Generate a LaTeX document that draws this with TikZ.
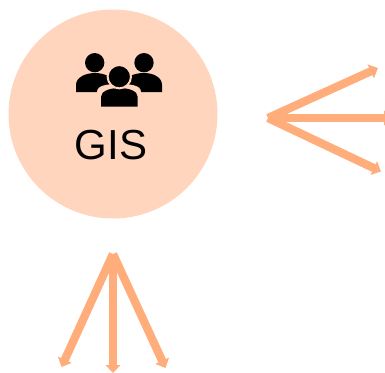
\documentclass[tikz,border=0pt]{standalone}
\usepackage{fontspec}
\setmainfont{Liberation Sans}
\usetikzlibrary{arrows.meta}
\definecolor{peach}{HTML}{FFD5BE}
\definecolor{fan}{HTML}{FFAD7A}

\begin{document}
\begin{tikzpicture}[x=.75pt, y=-.75pt,
                        hub/.style={circle, fill=peach, inner sep=0pt, minimum size=156.75pt},
                        spoke/.style={draw=fan, fill=fan, line width=6.2pt, -{Triangle[width=11pt, length=6pt]}},
                        head/.style={circle, fill=black, inner sep=0pt, minimum size=14.5pt},
                        mid/.style={circle, fill=black, draw=peach, line width=1.5pt, inner sep=0pt, minimum size=17.5pt}]
      \useasboundingbox (0,0) rectangle (385,372);

      \node[hub] (gis) at (113,114) {};
      \node[font=\fontsize{31.5}{31.5}\selectfont] (label) at (111,145) {GIS};

      % people icon
      \fill (76,92) -- (76,85) .. controls (76,77) and (86,73) .. (95,73)
            .. controls (104,73) and (114,77) .. (114,85) -- (114,92) -- cycle;
      \fill (124,92) -- (124,85) .. controls (124,77) and (134,73) .. (144,73)
            .. controls (153,73) and (162,77) .. (162,85) -- (162,92) -- cycle;
      \node[head] (left) at (94.7,62.7) {};
      \node[head] (right) at (144,62.7) {};
      \fill[peach] (97,108) -- (97,92) .. controls (97,85) and (108,84) .. (119,84)
            .. controls (130,84) and (141,85) .. (141,92) -- (141,108) -- cycle;
      \fill (101,106.7) -- (101,97) .. controls (101,91) and (110,88) .. (119.3,88)
            .. controls (129,88) and (137.7,91) .. (137.7,97) -- (137.7,106.7) -- cycle;
      \node[mid] (centre) at (119.3,76.7) {};

      \coordinate (r) at (268,118);
      \coordinate (r1) at (378,68);
      \coordinate (r2) at (392,118);
      \coordinate (r3) at (381,171.5);
      \coordinate (b) at (113,254);
      \coordinate (b1) at (61.5,367);
      \coordinate (b2) at (113,373);
      \coordinate (b3) at (165.5,368);

      \foreach \x/\y in {r/r1, r/r2, r/r3, b/b1, b/b2, b/b3}
        \draw[spoke] (\x) -- (\y);
    \end{tikzpicture}
\end{document}
